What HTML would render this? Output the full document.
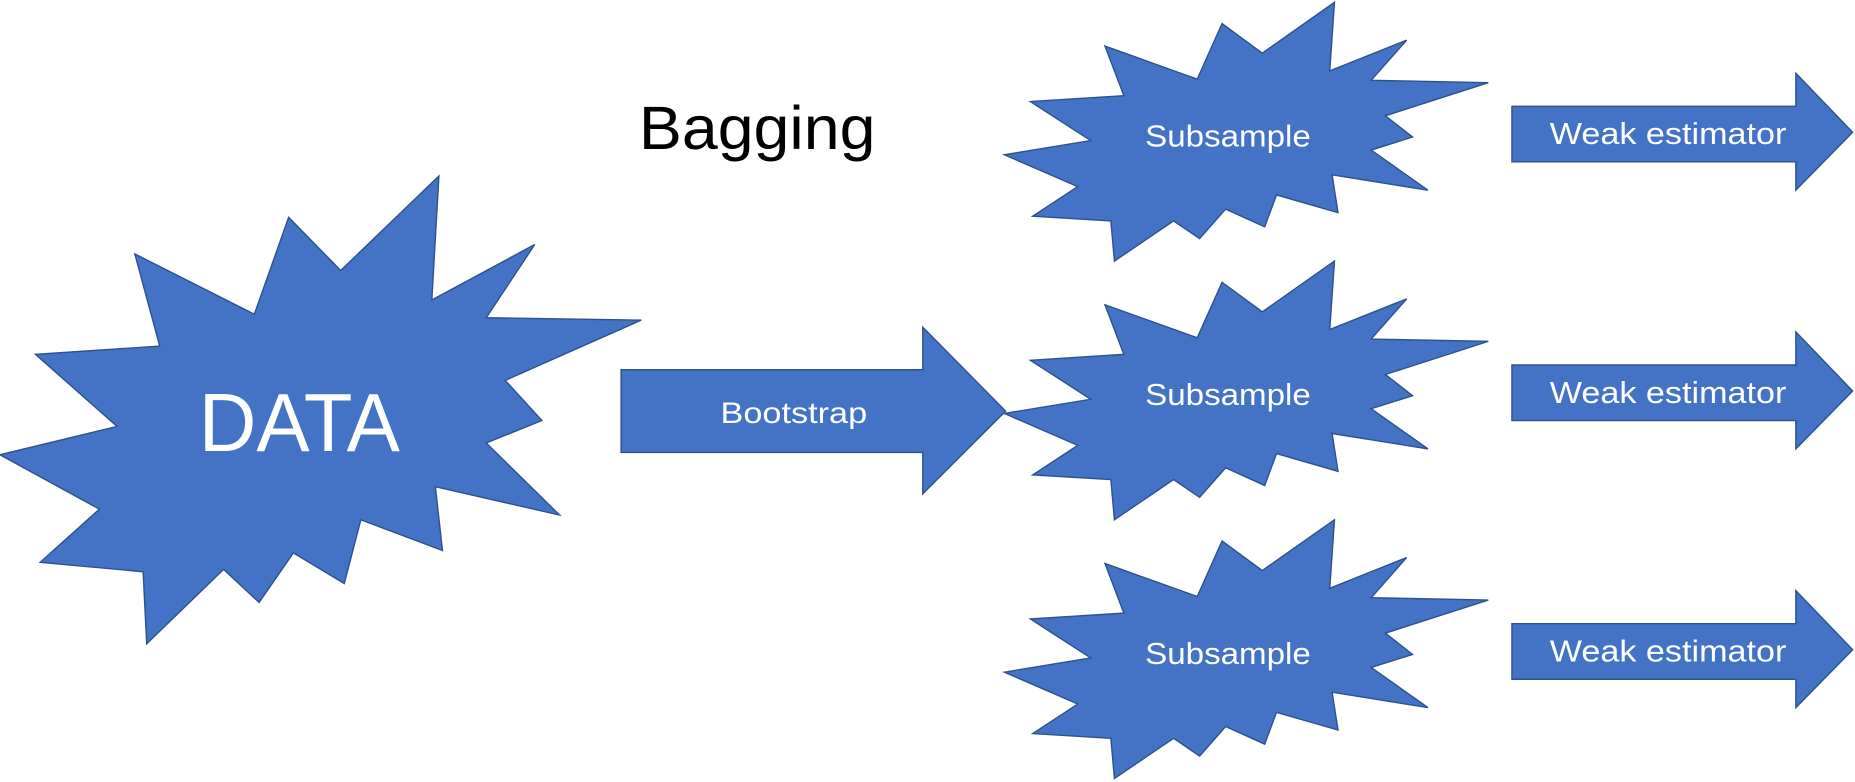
<!DOCTYPE html>
<html><head><meta charset="utf-8"><style>html,body{margin:0;padding:0;background:#fff;width:1855px;height:782px;overflow:hidden}</style></head>
<body>
<svg width="1855" height="782" viewBox="0 0 1568 662" preserveAspectRatio="none" xmlns="http://www.w3.org/2000/svg">
<defs>
<polygon id="sub" points="849,131 922,119 871,86 950,81 934,39 1012,67 1033,20 1067,45 1128,2 1124,60 1189,34 1159,68 1258,70 1171,98 1194,116 1159,127 1207,161 1126,148 1131,180 1079,165 1069,192 1036,177 1014,202 992,187 942,221 939,187 873,183 911,158" fill="#4472C4" stroke="#2F528F" stroke-width="1.2"/>
<polygon id="arr" points="1278,90 1518,90 1518,62 1566,112 1518,161 1518,137 1278,137" fill="#4472C4" stroke="#2F528F" stroke-width="1.2"/>
</defs>
<polygon points="0,385 99,361 30,300 135,293 114,215 215,266 244,184 288,229 371,149 365,254 452,207 411,269 542,271 427,322 458,356 411,375 473,436 368,412 374,466 305,440 291,494 248,468 219,510 189,482 124,545 121,484 34,476 84,431" fill="#4472C4" stroke="#2F528F" stroke-width="1.2"/>
<polygon points="525,313 780,313 780,277 850,348 780,418 780,383 525,383" fill="#4472C4" stroke="#2F528F" stroke-width="1.2"/>
<use href="#sub"/><use href="#sub" y="219"/><use href="#sub" y="438"/>
<use href="#arr"/><use href="#arr" y="219"/><use href="#arr" y="438"/>
<g font-family="Liberation Sans, sans-serif" text-anchor="middle" fill="#fff">
<text x="253" y="382" font-size="70" textLength="170" lengthAdjust="spacingAndGlyphs">DATA</text>
<text x="671" y="358" font-size="25" textLength="124" lengthAdjust="spacingAndGlyphs">Bootstrap</text>
<text x="1038" y="124" font-size="26" textLength="140" lengthAdjust="spacingAndGlyphs">Subsample</text>
<text x="1038" y="343" font-size="26" textLength="140" lengthAdjust="spacingAndGlyphs">Subsample</text>
<text x="1038" y="562" font-size="26" textLength="140" lengthAdjust="spacingAndGlyphs">Subsample</text>
<text x="1410" y="122" font-size="26" textLength="200" lengthAdjust="spacingAndGlyphs">Weak estimator</text>
<text x="1410" y="341" font-size="26" textLength="200" lengthAdjust="spacingAndGlyphs">Weak estimator</text>
<text x="1410" y="560" font-size="26" textLength="200" lengthAdjust="spacingAndGlyphs">Weak estimator</text>
<text x="640" y="126" font-size="52" fill="#000" textLength="200" lengthAdjust="spacingAndGlyphs">Bagging</text>
</g>
</svg>
</body></html>
